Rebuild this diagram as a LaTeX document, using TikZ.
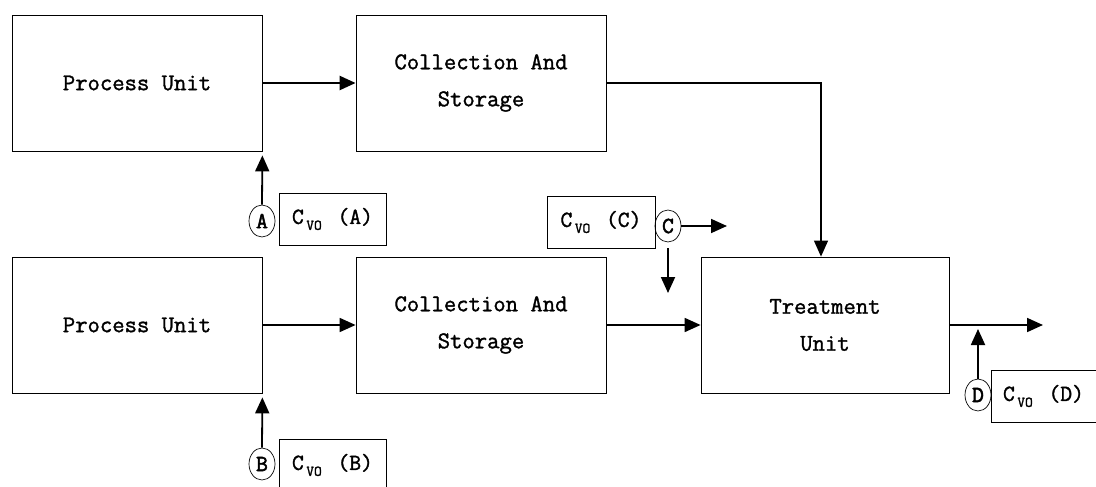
\documentclass[tikz,border=0pt]{standalone}
\usepackage{fontspec}
\newfontfamily\unitfont{Latin Modern Mono}[FakeBold=1.4]
\newfontfamily\probefont{Latin Modern Mono}[FakeBold=2.2]
\usetikzlibrary{arrows.meta,shapes.geometric}
\newcommand{\cvo}[1]{C\raisebox{-6pt}{\fontsize{15}{15}\selectfont\,VO}\,~(#1)}

\begin{document}
\begin{tikzpicture}[x=1pt,y=-1pt,
    unit/.style={draw,line width=0.8pt,minimum width=250pt,minimum height=136pt,inner sep=0pt,
      align=center,font=\unitfont\fontsize{24}{37}\selectfont},
    probe/.style={draw,ellipse,line width=0.7pt,minimum width=26pt,minimum height=32pt,inner sep=0pt,
      font=\probefont\fontsize{23}{23}\selectfont},
    tag/.style={draw,line width=0.8pt,minimum width=107pt,minimum height=52pt,inner sep=0pt,
      font=\unitfont\fontsize{23}{23}\selectfont},
    flow/.style={line width=1.8pt,-{Triangle[length=16pt,width=14pt]}}]
    \useasboundingbox (0,0) rectangle (1096,487);
    % units
    \node[unit] (pu1) at (137,83) {Process Unit};
    \node[unit] (cs1) at (481,83) {Collection And\\Storage};
    \node[unit] (pu2) at (137,325) {Process Unit};
    \node[unit] (cs2) at (481,325) {Collection And\\Storage};
    \node[unit,minimum width=248pt] (tu) at (825,325) {Treatment\\Unit};
    % sampling points
    \node[probe] (sA) at (262,221) {A};
    \node[tag] (tA) at (332.5,219) {\cvo{A}};
    \node[probe] (sB) at (262,464) {B};
    \node[tag] (tB) at (332.5,465) {\cvo{B}};
    \node[probe] (sC) at (668,226) {C};
    \node[tag,minimum width=108pt] (tC) at (601,222) {\cvo{C}};
    \node[probe] (sD) at (978,395) {D};
    \node[tag,minimum width=105pt] (tD) at (1043.5,396) {\cvo{D}};
    \coordinate (cout) at (727,226);
    \coordinate (cdown) at (668,293);
    \coordinate (tout) at (1043,325);
    % flows
    \draw[flow,line width=2.4pt] (pu1.east) -- (cs1.west);
    \draw[flow,line width=1.2pt] (cs1.east) -| ([xshift=-4pt]tu.north);
    \draw[flow] (pu2.east) -- (cs2.west);
    \draw[flow] (cs2.east) -- (tu.west);
    \draw[flow] (tu.east) -- (tout);
    \draw[flow,shorten >=4pt] (sA.north) -- (pu1.south east);
    \draw[flow,shorten >=4pt] (sB.north) -- (pu2.south east);
    \draw[flow] (sC.east) -- (cout);
    \draw[flow,shorten <=6pt] (sC.south) -- (cdown);
    \draw[flow,shorten >=4pt] (sD.north) -- (sD |- tu.east);
\end{tikzpicture}
\end{document}
